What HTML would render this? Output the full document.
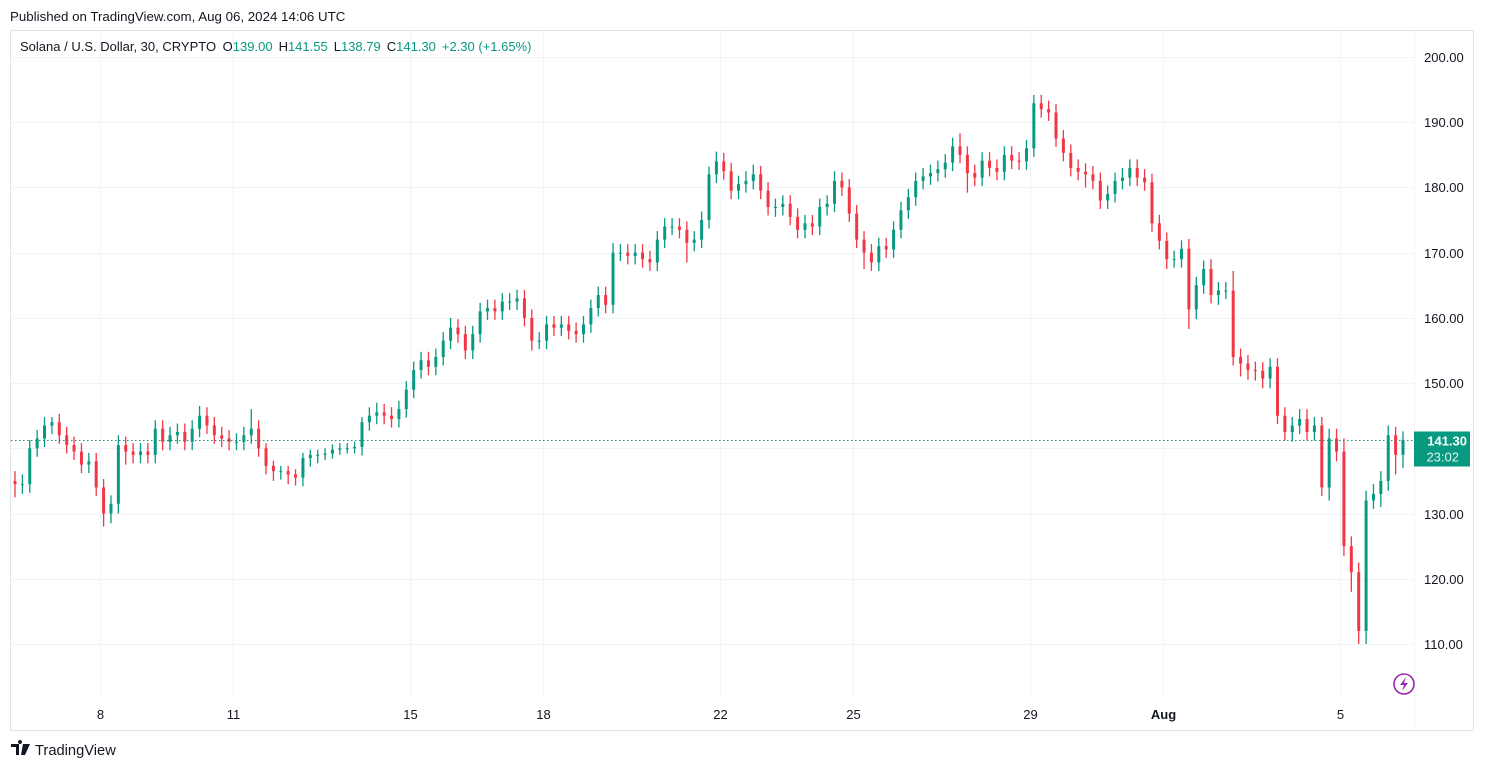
<!DOCTYPE html>
<html><head><meta charset="utf-8"><style>
html,body{margin:0;padding:0;background:#fff;width:1485px;height:770px;overflow:hidden;font-family:"Liberation Sans",sans-serif;}
</style></head><body>
<svg id="chart" width="1485" height="770" xmlns="http://www.w3.org/2000/svg" style="position:absolute;left:0;top:0">
<text x="10" y="21" font-size="13.3" fill="#131722" font-family="Liberation Sans, sans-serif">Published on TradingView.com, Aug 06, 2024 14:06 UTC</text>
<rect x="10.5" y="30.5" width="1463" height="700" fill="#fff" stroke="#e0e3eb"/>
<g id="grid"></g>
<g id="candles"></g>
<line id="lastline" x1="11" x2="1414" stroke="#089981" stroke-dasharray="1.5,2.5" stroke-width="1"/>
<line x1="1414.5" x2="1414.5" y1="31" y2="730" stroke="#f0f3fa"/>
<g id="yaxis"></g>
<g id="xaxis"></g>
<g font-size="13" font-family="Liberation Sans, sans-serif">
<text x="20" y="51" fill="#131722">Solana / U.S. Dollar, 30, CRYPTO <tspan dx="3">O</tspan><tspan fill="#089981">139.00</tspan><tspan dx="6">H</tspan><tspan fill="#089981">141.55</tspan><tspan dx="6">L</tspan><tspan fill="#089981">138.79</tspan><tspan dx="6">C</tspan><tspan fill="#089981">141.30</tspan><tspan dx="6" fill="#089981">+2.30 (+1.65%)</tspan></text>
</g>
<g id="pricebox"></g>
<g>
<circle cx="1404" cy="684" r="10" fill="none" stroke="#9c27b0" stroke-width="1.6"/>
<path d="M1406 677 L1400 685 L1404 685 L1402 691 L1408 683 L1404 683 Z" fill="#9c27b0"/>
</g>
<g>
<path d="M11 744 h8 v11 h-3 v-8 h-5 Z M20 744 a2 2 0 1 1 0.01 0 Z M23 744 h7 l-5 11 h-4 Z" fill="#131722"/>
<text x="35" y="755" font-size="14.7" fill="#131722" font-family="Liberation Sans, sans-serif">TradingView</text>
</g>
</svg>
<script>
const closes=[134.5,134.5,140,141.5,143.5,144,142,140.5,139.5,137.5,138,134,130,131.5,140.5,139.5,139,139.5,139,143,141,142,142.5,141,143,145,143.5,142,141.5,141,141,142,143,140,137.3,136.5,136.5,136,135.5,138.5,139,139,139.2,139.8,140,140,140.2,144,145,145.5,145,144.5,146,149,152,153.5,152.5,154,156.5,158.5,157.5,155,157.5,161,161.5,161,162.5,162.5,163,160,156.5,156.5,159,158.5,159,158,157.5,159,161.5,163.5,162,170,170,169.5,170,169,168.5,172,174,174,173.5,171.5,172,175,182,184,182.5,179.5,180.5,181,182,179.5,177,177,177.5,175.5,173.5,174.5,174,177,177.5,181,180,176,172,170,168.5,171,170.5,173.5,176.5,178.5,181,181.7,182.2,182.8,183.8,186.3,185,182.2,181.5,184.1,183,182.4,185,184.1,184,186,192.9,192,191.5,187.5,185.3,183,182.4,182,181,178,179,181,181.5,183,181.5,180.8,174.5,171.8,169,169,170.6,161.3,165,167.5,163.5,164.2,164.2,154,153,152,151.9,150.7,152.5,145,142.5,143.5,144.5,142.5,143.5,134,141.5,139.5,125,121,112,132,133,135,142,139,141.3];
const wickUp=[1.5,1.5,1.3,1.3,1.3,0.8,1.3,1.3,1.3,1.3,1.3,1.3,1.3,1.3,1.5,1.3,1.3,1.3,1.3,1.3,1.3,1.3,1.3,1.3,1.3,1.5,1.3,1.3,1.3,1.3,1.3,1.3,3,1.3,0.8,0.8,0.8,0.8,0.8,0.8,0.8,0.8,0.8,0.8,0.8,0.8,0.8,0.8,1.3,1.5,1.3,1.3,1.3,1.3,1.3,1.3,1.3,1.3,1.3,1.5,1.3,1.3,1.3,1.3,1.3,1.3,1.3,1.3,1.3,1.3,1.3,1.3,1.3,1.3,1.3,1.3,1.3,1.3,1.3,1.3,1.3,1.5,1.3,1.3,1.3,1.3,1.3,1.3,1.3,1.3,1.3,1.3,1.3,1.3,1.2,1.5,1.3,1.3,1.3,1.5,1.5,1.3,1.3,1.3,1.3,1.3,1.3,1.3,1.3,1.3,1.3,1.5,1.3,1.3,1.3,1.3,1.3,1.3,1.3,1.3,1.3,1.3,1.3,1.3,1.3,1.3,1.3,1.3,2,1.3,1.3,1.3,1.3,1.3,1.3,1.3,1.3,1.3,1.3,1.3,1.3,1.3,1.3,1.3,1.3,1.3,1.3,1.3,1.3,1.3,1.5,1.3,1.3,1.3,1.3,1.3,1.3,1.3,1.3,1.5,1.3,1.3,1.5,1.3,1.3,3,1.3,1.3,1.3,1.3,1.3,1.3,1.3,1.3,1.5,1.5,1.3,1.3,1.5,1.5,2,1.5,1.5,1.5,1.5,1.5,1.5,1.3,1.3];
const wickDn=[2,1.5,1.3,1.3,1.3,1.3,1.3,1.3,1.3,1.3,1.3,1.3,2,1.5,1.5,2,1.3,1.3,1.3,1.3,1.3,1.3,1.3,1.3,1.3,1.3,1.3,1.3,1.3,1.3,1.3,1.3,1.3,1.3,1.3,1.5,1.3,1.5,1.2,1.3,1.3,1.3,0.8,0.8,0.8,0.8,0.8,1.3,1.3,1.3,1.3,1.3,1.3,1.3,1.3,1.3,1.3,1.3,1.3,1.3,1.3,1.3,1.3,1.3,1.3,1.3,1.3,1.3,1.3,1.3,1.5,1.3,1.3,1.3,1.3,1.3,1.3,1.3,1.3,1.3,1.3,1.3,1.3,1.3,1.3,1.3,1.3,1.3,1.3,1.3,1.3,3,1.3,1.3,1.3,1.3,1.3,1.3,1.3,1.3,1.3,1.3,1.3,1.5,1.3,1.3,1.3,1.3,1.3,1.3,1.3,1.3,1.3,1.3,1.3,2.5,1.3,1.3,1.3,1.3,1.3,1.3,1.3,1.3,1.3,1.3,1.3,1.3,1.3,3,1.3,1.3,1.3,1.3,1.3,1.3,1.3,1.3,1.3,1.3,1.3,1.3,1.3,1.3,1.3,2,1.3,1.3,1.3,1.3,1.3,1.3,1.3,1.3,1.3,1.3,1.5,1.3,1.3,3,1.5,1.3,1.3,1.5,1.3,1.3,2,1.5,1.5,1.5,1.5,1.3,1.3,1.5,1.3,1.3,1.3,1.3,2,1.5,1.5,3,2,2,1.3,2,1.5,3,2,1.5,1.5,1.5];
const priceTicks=[110,120,130,140,150,160,170,180,190,200];
const dayLabels=["8","11","15","18","22","25","29","Aug","5"];
const dayOffsets=[2,5,9,12,16,19,23,26,30]; // days since Jul 6
const lastPrice=141.30;
const lastCountdown="23:02";

const NS="http://www.w3.org/2000/svg";
const X0=15, X1=1403;
const step=(X1-X0)/(closes.length-1);
function xScale(i){return X0+i*step;}
function yScale(p){return 57+(200-p)*6.522;}
function mk(tag,attrs,parent){const e=document.createElementNS(NS,tag);for(const k in attrs)e.setAttribute(k,attrs[k]);parent.appendChild(e);return e;}

const grid=document.getElementById('grid');
const yaxis=document.getElementById('yaxis');
priceTicks.forEach(p=>{
  const y=Math.round(yScale(p))+0.5;
  const l=mk('line',{x1:11,x2:1414,y1:y,y2:y,stroke:'#f0f3fa'},grid);
  
  
  const t=mk('text',{x:1424,y:y+4.5,'font-size':13,fill:'#131722','font-family':'Liberation Sans, sans-serif'},yaxis);
  t.textContent=p.toFixed(2);
  
  
});
const xaxis=document.getElementById('xaxis');
dayLabels.forEach((lab,k)=>{
  const x=Math.round(xScale(dayOffsets[k]*6-0.5))+0.5;
  const l=mk('line',{x1:x,x2:x,y1:31,y2:698,stroke:'#f0f3fa'},grid);
  
  
  const t=mk('text',{x:x,y:719,'font-size':13,'text-anchor':'middle',fill:'#131722','font-weight':lab==='Aug'?'bold':'normal','font-family':'Liberation Sans, sans-serif'},xaxis);
  t.textContent=lab;
  
  
});

const cg=document.getElementById('candles');
for(let i=0;i<closes.length;i++){
  const o=i===0?closes[0]+0.5:closes[i-1];
  const c=closes[i];
  const hi=Math.max(o,c)+wickUp[i], lo=Math.min(o,c)-wickDn[i];
  const col=c>=o?'#089981':'#f23645';
  const x=xScale(i);
  const w=mk('line',{x1:x,x2:x,y1:yScale(hi),y2:yScale(lo),stroke:col,'stroke-width':1.3},cg);
  
  
  const yt=yScale(Math.max(o,c)), yb=yScale(Math.min(o,c));
  const b=mk('rect',{x:x-1.5,y:yt,width:3,height:Math.max(1,yb-yt),fill:col},cg);
  
  
}
const ly=Math.round(yScale(lastPrice))+0.5;
const ll=document.getElementById('lastline');ll.setAttribute('y1',ly);ll.setAttribute('y2',ly);
const pb=document.getElementById('pricebox');
mk('rect',{x:1414,y:ly-9,width:56,height:35,fill:'#089981'},pb);
const t1=mk('text',{x:1467,y:ly+5,'font-size':13,'font-weight':'bold','text-anchor':'end',fill:'#fff','font-family':'Liberation Sans, sans-serif'},pb);
t1.textContent=lastPrice.toFixed(2);


const t2=mk('text',{x:1459,y:ly+21,'font-size':13,'text-anchor':'end',fill:'#e0f2ef','font-family':'Liberation Sans, sans-serif'},pb);
t2.textContent=lastCountdown;


</script>
</body></html>
